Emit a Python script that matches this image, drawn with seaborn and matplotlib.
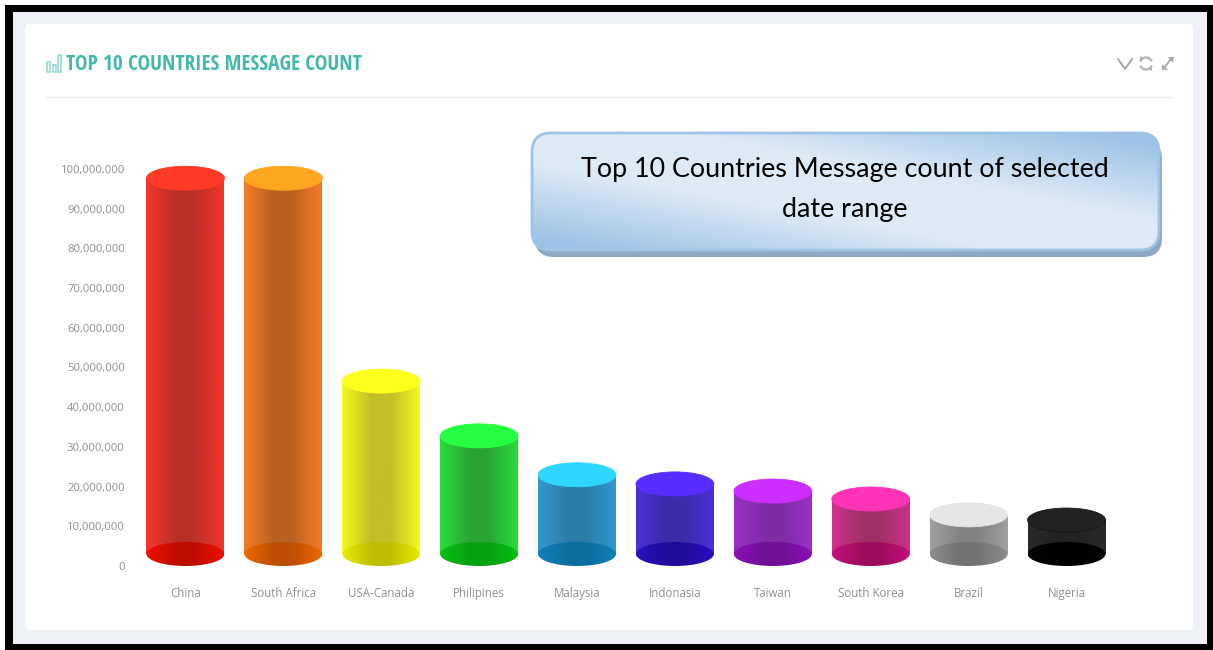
import numpy as np
import pandas as pd
import matplotlib
matplotlib.use("Agg")
import matplotlib.pyplot as plt
from matplotlib.colors import to_rgb
from matplotlib.patches import Ellipse, FancyBboxPatch, Rectangle, Arc, Polygon
from matplotlib.ticker import FuncFormatter
import seaborn as sns

countries = ["China", "South Africa", "USA-Canada", "Philipines", "Malaysia",
             "Indonasia", "Taiwan", "South Korea", "Brazil", "Nigeria"]
messages = [100.7e6, 100.7e6, 49.6e6, 35.8e6, 26.0e6,
            23.7e6, 21.9e6, 19.9e6, 15.9e6, 14.6e6]
y_ticks = [0, 10e6, 20e6, 30e6, 40e6, 50e6, 60e6, 70e6, 80e6, 90e6, 100e6]

# Cylinder shading: lid, wall edge, wall centre, floor edge, floor centre
lid_colors = ["#FF3B28", "#FFA620", "#FFFF1E", "#26FF40", "#2FD6FF",
              "#5A2DFF", "#CC2EFF", "#FF33B8", "#E6E6E6", "#222222"]
wall_edge = ["#F5362A", "#F57C26", "#F4FA20", "#2ADE3A", "#3299D0",
             "#4A30D8", "#9A30C8", "#D0308C", "#A0A0A0", "#2A2A2A"]
wall_mid = ["#B9302A", "#BA6122", "#BFBF26", "#28A535", "#2C7CA8",
            "#3C2CA8", "#7E2CA5", "#A03068", "#828282", "#222222"]
floor_edge = ["#EE1000", "#ED6A00", "#E6EC00", "#08C010", "#0F80BA",
              "#2A0FC0", "#8810B4", "#C4107C", "#8C8C8C", "#050505"]
floor_mid = ["#BE0C00", "#BD4E04", "#BDBF00", "#07A010", "#0A6E9E",
             "#200C9A", "#700F98", "#9E0C5E", "#737373", "#000000"]

FIG_W, FIG_H = 1213, 650
TEAL = "#45B8AC"
GREY = "#8F8F8F"

sns.set_theme(style="white")
plt.rcParams["font.family"] = ["Open Sans", "DejaVu Sans"]

fig = plt.figure(figsize=(FIG_W / 100, FIG_H / 100), dpi=100, facecolor="white")

# Page furniture is laid out in a pixel-based backdrop axes
page = fig.add_axes([0, 0, 1, 1], zorder=0)
page.set_xlim(0, FIG_W)
page.set_ylim(FIG_H, 0)
page.axis("off")
page.add_patch(Rectangle((5, 5), FIG_W - 5, FIG_H - 5, fc="black", ec="none"))
page.add_patch(Rectangle((13, 12), 1194, 632, fc="#EEF1F6", ec="none"))
page.add_patch(FancyBboxPatch((28, 27), 1162, 600, boxstyle="round,pad=3,rounding_size=5",
                              fc="white", ec="none"))
page.plot([46, 1173], [97, 97], color="#EBEDEF", lw=1)

# Header icon, title and panel controls
for x0, top in [(46.5, 62), (52.5, 65), (57.5, 55)]:
    page.add_patch(Rectangle((x0, top), 3.5, 71.5 - top, fc="white", ec="#8FD6CE", lw=1.1))
page.text(66.5, 64, "TOP 10 COUNTRIES MESSAGE COUNT", color=TEAL,
          family="Open Sans Condensed", fontweight="bold", fontsize=15.3,
          va="center", ha="left")
page.plot([1118, 1125, 1132], [59, 69, 59], color="#A9A9A9", lw=1.5)
page.add_patch(Arc((1146, 63.5), 12, 12, theta1=200, theta2=340, color="#B5B5B5", lw=1.7))
page.add_patch(Arc((1146, 63.5), 12, 12, theta1=20, theta2=160, color="#B5B5B5", lw=1.7))
page.add_patch(Polygon([[1140, 56], [1140, 62], [1144, 58]], fc="#B5B5B5", ec="none"))
page.add_patch(Polygon([[1152, 71], [1152, 65], [1148, 69]], fc="#B5B5B5", ec="none"))
page.plot([1163, 1172], [69, 58], color="#A9A9A9", lw=1.4)
page.add_patch(Polygon([[1168, 57], [1174, 57], [1173, 63]], fc="#A9A9A9", ec="none"))
page.add_patch(Polygon([[1162, 64], [1162, 70], [1168, 70]], fc="#A9A9A9", ec="none"))

# Callout with a diagonal sheen
box_x, box_y, box_w, box_h = 532, 133, 627, 117
page.add_patch(FancyBboxPatch((box_x + 3, box_y + 7), box_w, box_h,
                              boxstyle="round,pad=0,rounding_size=19",
                              fc="#8EA9C6", ec="none", zorder=2))
frame = FancyBboxPatch((box_x, box_y), box_w, box_h, boxstyle="round,pad=0,rounding_size=19",
                       fc="none", ec="#9DC3E6", lw=2, zorder=4)
page.add_patch(frame)
uu, vv = np.meshgrid(np.linspace(0, 1, 300), np.linspace(0, 1, 80))
sheen = np.clip((np.abs(uu - vv) - 0.25) / 0.65, 0, 1)[..., None]
light, dark = np.array(to_rgb("#DEEAF6")), np.array(to_rgb("#9DC3E6"))
fill = page.imshow(light + (dark - light) * sheen, aspect="auto", zorder=3,
                   extent=(box_x, box_x + box_w, box_y + box_h, box_y), interpolation="bilinear")
fill.set_clip_path(frame)
page.set_xlim(0, FIG_W)
page.set_ylim(FIG_H, 0)
page.text(844.5, 170, "Top 10 Countries Message count of selected", family="Lato",
          fontsize=19.4, color="black", ha="center", va="center", zorder=5)
page.text(844.5, 210, "date range", family="Lato",
          fontsize=19.4, color="black", ha="center", va="center", zorder=5)

# Chart axes: 0 sits at y=566 px, 100M at y=169 px, ten category slots from x=136.5 to 1115.5 px
PX_PER_UNIT = 397 / 100e6
y_max = 105e6
ax = fig.add_axes([136.5 / FIG_W, 1 - 566 / FIG_H, 979 / FIG_W, y_max * PX_PER_UNIT / FIG_H],
                  zorder=1)
ax.patch.set_alpha(0)

data = pd.DataFrame({"country": countries, "messages": messages})
sns.barplot(data=data, x="country", y="messages", hue="country", palette=wall_mid,
            legend=False, width=0.796, saturation=1, ax=ax)

cap = 24 / PX_PER_UNIT


def shaded(edge, mid):
    """One-row horizontal gradient: bright rims around a darker middle band."""
    pos = np.linspace(0, 1, 120)
    e, m = np.array(to_rgb(edge)), np.array(to_rgb(mid))
    rows = [np.interp(pos, [0, 0.38, 0.62, 1], [e[c], m[c], m[c], e[c] * 0.98 + m[c] * 0.02])
            for c in range(3)]
    return np.dstack(rows)


for i, bar in enumerate(ax.patches):
    x, w, value = bar.get_x(), bar.get_width(), bar.get_height()
    # The straight wall runs between the centres of the floor and lid ellipses
    bar.set_y(cap / 2)
    bar.set_height(value - cap)
    wall = ax.imshow(shaded(wall_edge[i], wall_mid[i]), aspect="auto", zorder=2,
                     extent=(x, x + w, cap / 2, value - cap / 2), interpolation="bilinear")
    wall.set_clip_path(bar)

    floor = Ellipse((x + w / 2, cap / 2), w, cap, fc="none", ec="none", zorder=3)
    ax.add_patch(floor)
    base = ax.imshow(shaded(floor_edge[i], floor_mid[i]), aspect="auto", zorder=3,
                     extent=(x, x + w, 0, cap), interpolation="bilinear")
    base.set_clip_path(floor)

    lid_edge = "#10181C" if countries[i] == "Nigeria" else lid_colors[i]
    ax.add_patch(Ellipse((x + w / 2, value - cap / 2), w, cap, fc=lid_colors[i],
                         ec=lid_edge, lw=0.6, zorder=4))

ax.set_xlim(-0.5, 9.5)
ax.set_ylim(0, y_max)
ax.set_yticks(y_ticks)
ax.yaxis.set_major_formatter(FuncFormatter(lambda v, _: f"{v:,.0f}"))
ax.set_xlabel("")
ax.set_ylabel("")
ax.tick_params(axis="y", length=0, pad=8.5, labelsize=8.1, labelcolor=GREY)
ax.tick_params(axis="x", length=0, pad=15, labelsize=8.3, labelcolor=GREY)
ax.grid(False)
sns.despine(ax=ax, left=True, bottom=True)

fig.savefig("out.png", dpi=100, facecolor="white")
